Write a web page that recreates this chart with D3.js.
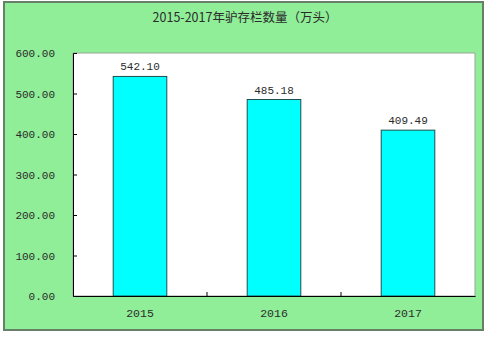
<!DOCTYPE html>
<html>
<head>
<meta charset="utf-8">
<script src="https://cdn.jsdelivr.net/npm/d3@7"></script>
<style>
  body { margin: 0; background: #fff; }
  text { fill: #2b2b2b; }
</style>
</head>
<body>
<div id="chart"></div>
<script>
// data
const years = ["2015", "2016", "2017"];
const stock = [542.10, 485.18, 409.49];
const yTicks = [0, 100, 200, 300, 400, 500, 600];
const title = "2015-2017年驴存栏数量（万头）";

let width = 490, height = 337;
let plot = {left: 73, right: 475, top: 53, bottom: 296};

let svg = d3.select("#chart").append("svg")
    .attr("width", width)
    .attr("height", height);

// outer frame
svg.append("rect")
    .attr("x", 4).attr("y", 2)
    .attr("width", 479).attr("height", 328)
    .attr("fill", "#90ee98")
    .attr("stroke", "#66806a")
    .attr("stroke-width", 2);

svg.append("text")
    .attr("x", 245).attr("y", 22)
    .attr("text-anchor", "middle")
    .style("font-family", "'Noto Sans CJK SC'")
    .style("font-size", "12.5px")
    .text(title);

// scales
let x = d3.scaleBand()
    .domain(years)
    .range([plot.left, plot.right])
    .paddingInner(0.6)
    .paddingOuter(0.3);
let band = d3.scaleBand().domain(years).range([plot.left, plot.right]);
let y = d3.scaleLinear()
    .domain([0, 600])
    .range([plot.bottom, plot.top]);

// plot area
svg.append("rect")
    .attr("x", plot.left).attr("y", plot.top)
    .attr("width", plot.right - plot.left)
    .attr("height", plot.bottom - plot.top)
    .attr("fill", "#fff")
    .attr("stroke", "#9aa39a")
    .attr("stroke-width", 1);

// bars
svg.append("g").selectAll("rect")
    .data(stock)
    .enter().append("rect")
    .attr("x", (d, i) => x(years[i]))
    .attr("y", d => y(d))
    .attr("width", x.bandwidth())
    .attr("height", d => y(0) - y(d))
    .attr("fill", "#00ffff")
    .attr("stroke", "#1d4f4f")
    .attr("stroke-width", 1);

svg.append("g").selectAll("text")
    .data(stock)
    .enter().append("text")
    .attr("x", (d, i) => x(years[i]) + x.bandwidth() / 2)
    .attr("y", d => y(d) - 6)
    .attr("text-anchor", "middle")
    .style("font-family", "'Liberation Mono', monospace")
    .style("font-size", "11px")
    .text(d => d3.format(".2f")(d));

// y axis
let yAxis = d3.axisLeft(y)
    .tickValues(yTicks)
    .tickSize(-4)
    .tickFormat(d3.format(".2f"))
    .tickPadding(18);
let gy = svg.append("g")
    .attr("transform", `translate(${plot.left},0)`)
    .call(yAxis);
gy.select(".domain").attr("stroke", "#000");
gy.selectAll(".tick line").attr("stroke", "#000")
    .attr("display", d => (d === 0 || d === 600) ? "none" : null);
gy.selectAll(".tick text")
    .style("font-family", "'Liberation Mono', monospace")
    .style("font-size", "11px")
    .attr("fill", "#2b2b2b");

// x axis
let xAxis = d3.axisBottom(band)
    .tickSize(0)
    .tickPadding(13);
let gx = svg.append("g")
    .attr("transform", `translate(0,${plot.bottom})`)
    .call(xAxis);
gx.select(".domain").attr("stroke", "#000");
gx.selectAll(".tick text")
    .style("font-family", "'Liberation Mono', monospace")
    .style("font-size", "11.5px")
    .attr("fill", "#2b2b2b");

// boundary ticks between categories
gx.selectAll(".sep")
    .data(years.slice(1))
    .enter().append("line")
    .attr("x1", d => band(d)).attr("x2", d => band(d))
    .attr("y1", 0).attr("y2", -4)
    .attr("stroke", "#000");
</script>
</body>
</html>
